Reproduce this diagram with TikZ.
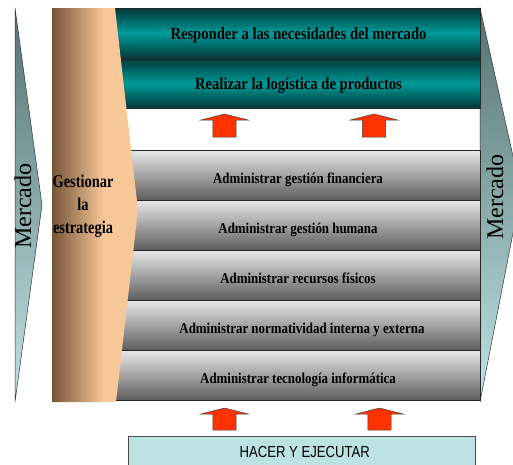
\documentclass[tikz,border=0pt]{standalone}
\usepackage{fontspec}
\setmainfont{Liberation Serif}
\setsansfont{Liberation Sans}

\definecolor{tealdark}{HTML}{003836}
\definecolor{tealmid}{HTML}{009A98}
\definecolor{graylight}{HTML}{E6E6E6}
\definecolor{graydark}{HTML}{5C5C5C}
\definecolor{stratdark}{HTML}{765638}
\definecolor{stratlight}{HTML}{F9C898}
\definecolor{marketdark}{HTML}{557271}
\definecolor{marketlight}{HTML}{BFE3E3}
\definecolor{arrowred}{HTML}{FF3300}
\definecolor{basefill}{HTML}{BDE2E2}

\tikzset{
    tealbox/.style={draw=black!85, line width=0.8pt, top color=tealdark, bottom color=tealdark, middle color=tealmid},
    graybox/.style={draw=black!85, line width=0.8pt, top color=graylight, bottom color=graydark},
    marketarrow/.style={draw=black!80, line width=0.5pt, top color=marketdark, bottom color=marketlight},
    redarrow/.style={fill=arrowred, draw=black!75, line width=0.5pt},
    tealtext/.style={anchor=base, font=\bfseries\fontsize{17}{17}\selectfont, xscale=0.86, transform shape},
    graytext/.style={anchor=base, font=\bfseries\fontsize{15}{15}\selectfont, xscale=0.86, transform shape},
    markettext/.style={rotate=90, font=\fontsize{24}{24}\selectfont}
}

\begin{document}
\begin{tikzpicture}[x=1pt, y=-1pt]
        \useasboundingbox (0,0) rectangle (513,464);
        \clip (0,0) rectangle (513,464);

        % market arrows
        \draw[marketarrow] (15,8) -- (42,205) -- (15,402) -- cycle;
        \draw[marketarrow] (480,8) -- (521,192) -- (480,402) -- cycle;

        % upper boxes
        \draw[tealbox] (105,8) rectangle (480,58.3);
        \draw[tealbox] (105,58.3) rectangle (480,108.3);

        % lower boxes
        \draw[graybox] (105,150.7) rectangle (480,200.7);
        \draw[graybox] (105,200.7) rectangle (480,250.7);
        \draw[graybox] (105,250.7) rectangle (480,300.7);
        \draw[graybox] (105,300.7) rectangle (480,350.7);
        \draw[graybox] (105,350.7) rectangle (480,400.7);

        % strategy band
        \begin{scope}
            \clip (52,8) -- (115,8) -- (138,210) -- (116,402) -- (52,402) -- cycle;
            \fill[left color=stratdark, right color=stratlight] (52,8) rectangle (104,402);
            \fill[stratlight] (103.5,8) rectangle (140,402);
        \end{scope}

        % red arrows
        \draw[redarrow] (224.5,114) -- ++(23.5,6) -- ++(-11.8,0) -- ++(0,17) -- ++(-23.4,0) -- ++(0,-17) -- ++(-11.8,0) -- cycle;
        \draw[redarrow] (374,114) -- ++(23.5,6) -- ++(-11.8,0) -- ++(0,17) -- ++(-23.4,0) -- ++(0,-17) -- ++(-11.8,0) -- cycle;
        \draw[redarrow] (224.5,408) -- ++(23.5,6) -- ++(-11.8,0) -- ++(0,16) -- ++(-23.4,0) -- ++(0,-16) -- ++(-11.8,0) -- cycle;
        \draw[redarrow] (379.5,408) -- ++(23.5,6) -- ++(-11.8,0) -- ++(0,16) -- ++(-23.4,0) -- ++(0,-16) -- ++(-11.8,0) -- cycle;

        % base box
        \draw[draw=black!70, fill=basefill, line width=0.6pt] (128,436) rectangle (475,470);

        \node[tealtext] (responder) at (298.5,39) {Responder a las necesidades del mercado};
        \node[tealtext] (logistica) at (298.5,89.5) {Realizar la logística de productos};

        \node[graytext] (financiera) at (298,183.5) {Administrar gestión financiera};
        \node[graytext] (humana) at (298,233.5) {Administrar gestión humana};
        \node[graytext] (fisicos) at (298,283.5) {Administrar recursos físicos};
        \node[graytext] (normatividad) at (302,333.5) {Administrar normatividad interna y externa};
        \node[graytext] (tecnologia) at (298,383.5) {Administrar tecnología informática};

        \node[align=center, font=\bfseries\fontsize{18}{23}\selectfont, xscale=0.8, transform shape] (estrategia) at (83,206) {Gestionar\\la\\estrategia};

        \node[markettext] (mercadoizq) at (23,206) {Mercado};
        \node[markettext] (mercadoder) at (495,197) {Mercado};

        \node[anchor=base, font=\sffamily\fontsize{16}{16}\selectfont, xscale=0.82, transform shape] (hacer) at (304.7,457.3) {HACER Y EJECUTAR};

\end{tikzpicture}
\end{document}
